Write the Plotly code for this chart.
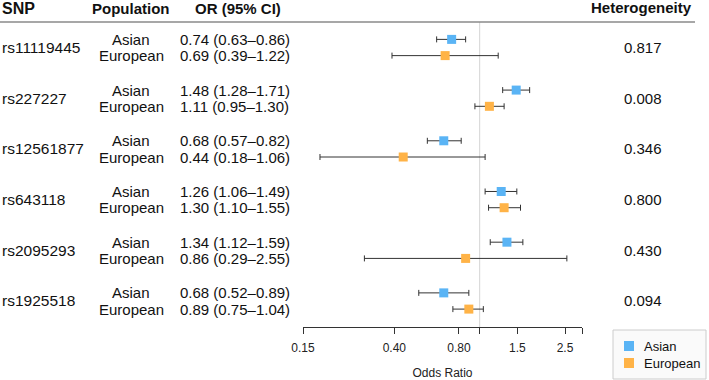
import plotly.graph_objects as go
import math

snps = ["rs11119445", "rs227227", "rs12561877", "rs643118", "rs2095293", "rs1925518"]
populations = ["Asian", "European"]
asian_or = [0.74, 1.48, 0.68, 1.26, 1.34, 0.68]
asian_lo = [0.63, 1.28, 0.57, 1.06, 1.12, 0.52]
asian_hi = [0.86, 1.71, 0.82, 1.49, 1.59, 0.89]
euro_or = [0.69, 1.11, 0.44, 1.30, 0.86, 0.89]
euro_lo = [0.39, 0.95, 0.18, 1.10, 0.29, 0.75]
euro_hi = [1.22, 1.30, 1.06, 1.55, 2.55, 1.04]
heterogeneity = ["0.817", "0.008", "0.346", "0.800", "0.430", "0.094"]
tick_vals = [0.15, 0.40, 0.80, 1.0, 1.5, 2.5, 3.0]
tick_text = ["0.15", "0.40", "0.80", "", "1.5", "2.5", ""]

W, H = 709, 380
BLUE = "#5AB4F5"
ORANGE = "#FFB347"
FONT = "Liberation Sans, Arial, Helvetica, sans-serif"

off = 0.16
ya = [g - off for g in range(len(snps))]
ye = [g + off for g in range(len(snps))]

fig = go.Figure()

def add_series(name, ors, lo, hi, ys, color):
    fig.add_trace(go.Scatter(
        x=ors, y=ys, mode="markers", name=name, showlegend=False,
        marker=dict(symbol="square", size=9, color=color, line=dict(width=0)),
        error_x=dict(type="data", symmetric=False,
                     array=[h - o for h, o in zip(hi, ors)],
                     arrayminus=[o - l for o, l in zip(ors, lo)],
                     color="#333333", thickness=1, width=3),
    ))

add_series("Asian", asian_or, asian_lo, asian_hi, ya, BLUE)
add_series("European", euro_or, euro_lo, euro_hi, ye, ORANGE)

x0, x1 = 303, 582
ytop, ybot = 22, 327

fig.update_layout(
    width=W, height=H,
    margin=dict(l=0, r=0, t=0, b=0, autoexpand=False),
    paper_bgcolor="white", plot_bgcolor="white",
    font=dict(family=FONT, size=15, color="#111111"),
    xaxis=dict(
        type="log", domain=[x0 / W, x1 / W],
        range=[math.log10(0.15), math.log10(3.0)],
        tickvals=tick_vals, ticktext=tick_text,
        showline=True, linecolor="#333333", linewidth=1,
        ticks="outside", ticklen=6, tickcolor="#333333", tickwidth=1,
        ticklabelstandoff=4,
        showgrid=False, zeroline=False,
        tickfont=dict(size=12, color="#222222"),
        title=dict(text="Odds Ratio", font=dict(size=12, color="#222222"), standoff=14),
    ),
    yaxis=dict(
        domain=[1 - ybot / H, 1 - ytop / H],
        range=[5.513, -0.503],
        showgrid=False, zeroline=False, showticklabels=False, showline=False,
    ),
    showlegend=False,
)

# reference line at OR = 1
fig.add_shape(type="line", xref="x", yref="paper", x0=1, x1=1,
              y0=1 - ybot / H, y1=1 - ytop / H,
              line=dict(color="#d4d4d4", width=1), layer="below")
# header rule
fig.add_shape(type="line", xref="paper", yref="paper", x0=0, x1=695 / W,
              y0=1 - ytop / H, y1=1 - ytop / H,
              line=dict(color="#8a8a8a", width=1.5))

def px_x(p):
    return p / W

def px_y(p):
    return 1 - p / H

def ann(text, px, yv, xanchor="left", yref="y", bold=False, size=15):
    fig.add_annotation(text=f"<b>{text}</b>" if bold else text,
                       x=px / W, xref="paper", y=yv, yref=yref,
                       xanchor=xanchor, yanchor="middle", showarrow=False,
                       font=dict(size=size, family=FONT, color="#111111"))

hy = px_y(9)
ann("SNP", 0, hy, "left", "paper", bold=True, size=16)
ann("Population", 131, hy, "center", "paper", bold=True)
ann("OR (95% CI)", 193, hy, "left", "paper", bold=True)
ann("Heterogeneity", 694, px_y(8), "right", "paper", bold=True)

for g, snp in enumerate(snps):
    ann(snp, 0, g, size=15.5)
    ann(populations[0], 131, ya[g], "center")
    ann(populations[1], 131, ye[g], "center")
    ann(f"{asian_or[g]:.2f} ({asian_lo[g]:.2f}\u2013{asian_hi[g]:.2f})", 178, ya[g])
    ann(f"{euro_or[g]:.2f} ({euro_lo[g]:.2f}\u2013{euro_hi[g]:.2f})", 178, ye[g])
    ann(heterogeneity[g], 643, g, "center")

# legend box (custom)
fig.add_shape(type="rect", xref="paper", yref="paper",
              x0=px_x(613), x1=px_x(706), y0=px_y(379), y1=px_y(330),
              line=dict(color="#cccccc", width=1), fillcolor="#fafafa")
for i, (name, color) in enumerate(zip(populations, [BLUE, ORANGE])):
    cy = 346 + i * 17
    fig.add_shape(type="rect", xref="paper", yref="paper",
                  x0=px_x(624), x1=px_x(634), y0=px_y(cy + 5), y1=px_y(cy - 5),
                  line=dict(width=0), fillcolor=color)
    ann(name, 642, px_y(cy), "left", "paper", size=13)

fig.write_html("out.html", config={"displayModeBar": False},
               post_script="document.body.style.margin='0px';document.body.style.overflow='hidden';")
